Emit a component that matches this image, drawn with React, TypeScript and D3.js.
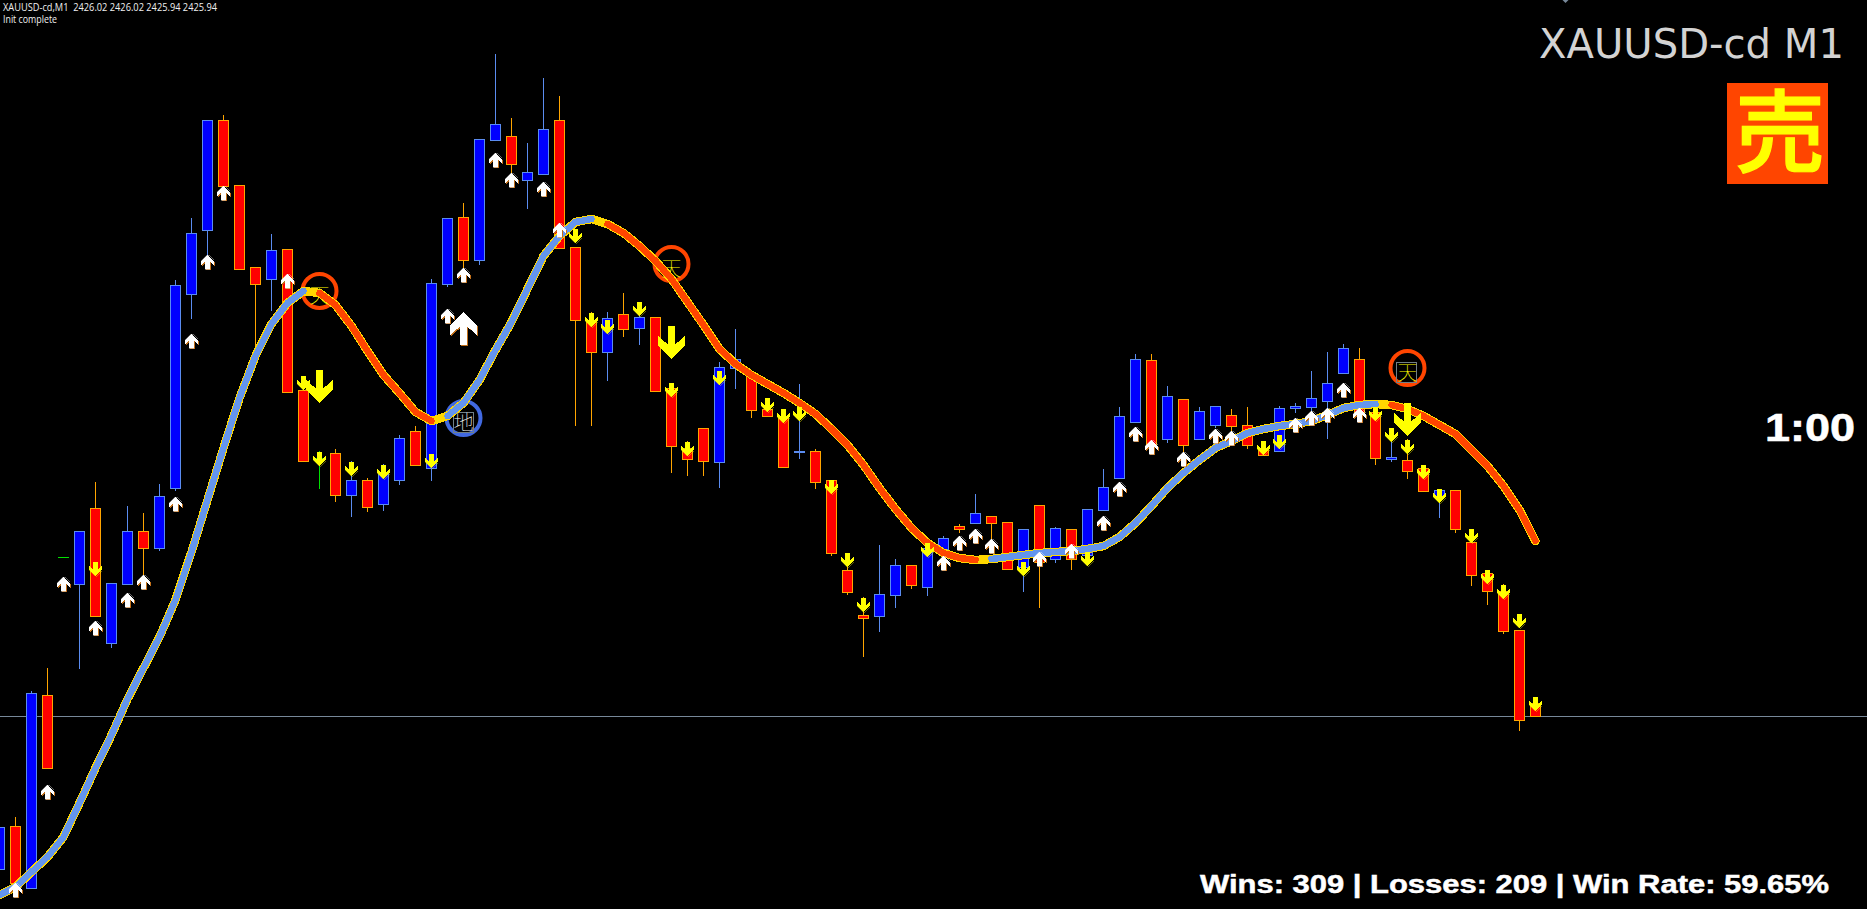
import React from "react";
import * as d3 from "d3";

const highs = [2424.83,2424.94,2426.20,2426.43,2427.53,2427.79,2428.29,2427.27,2428.05,2427.98,2428.27,2430.31,2430.93,2431.90,2431.96,2431.25,2430.43,2430.77,2430.61,2429.20,2428.60,2428.62,2428.50,2428.33,2428.47,2428.76,2428.85,2430.32,2430.92,2431.08,2431.71,2432.57,2431.93,2431.68,2432.33,2432.15,2430.63,2429.99,2429.99,2430.18,2430.08,2429.93,2429.27,2428.70,2428.82,2429.49,2429.82,2429.37,2429.12,2429.02,2429.27,2428.62,2428.30,2427.57,2427.14,2427.66,2427.52,2427.46,2427.73,2427.75,2427.87,2428.17,2427.94,2427.88,2427.81,2428.05,2427.84,2427.81,2428.01,2428.42,2429.04,2429.57,2429.57,2429.25,2429.11,2429.04,2429.04,2429.02,2429.04,2428.60,2429.05,2429.08,2429.40,2429.59,2429.67,2429.63,2428.98,2428.73,2428.72,2428.42,2428.20,2428.20,2427.68,2427.37,2427.27,2426.80,2426.07];
const lows = [2424.41,2424.27,2424.22,2425.42,2427.53,2426.42,2426.94,2426.63,2427.26,2427.35,2427.60,2428.20,2429.92,2430.55,2431.24,2430.41,2429.60,2430.00,2429.18,2428.49,2428.22,2428.09,2427.94,2427.99,2428.00,2428.26,2428.45,2428.30,2430.24,2430.42,2430.46,2431.70,2431.37,2431.02,2431.36,2430.62,2428.85,2428.85,2429.30,2429.74,2429.66,2429.19,2428.38,2428.35,2428.35,2428.23,2429.22,2428.93,2428.94,2428.43,2428.52,2428.22,2427.55,2427.16,2426.54,2426.79,2427.03,2427.22,2427.15,2427.61,2427.78,2427.87,2427.67,2427.41,2427.19,2427.03,2427.48,2427.41,2427.55,2428.00,2428.32,2428.88,2428.65,2428.68,2428.58,2428.71,2428.83,2428.78,2428.62,2428.55,2428.59,2428.98,2428.97,2428.72,2429.37,2428.97,2428.46,2428.49,2428.32,2428.19,2427.93,2427.78,2427.25,2427.06,2426.77,2425.80,2425.94];
const opens = [2424.41,2424.84,2424.22,2426.15,2427.53,2427.26,2428.02,2426.67,2427.26,2427.79,2427.62,2428.22,2430.16,2430.80,2431.90,2431.25,2430.43,2430.31,2430.61,2429.20,2428.52,2428.57,2428.15,2428.30,2428.06,2428.30,2428.79,2428.42,2430.26,2430.93,2430.50,2431.70,2431.74,2431.30,2431.36,2431.90,2430.63,2429.88,2429.58,2429.96,2429.82,2429.93,2429.22,2428.62,2428.82,2428.48,2429.42,2429.37,2429.01,2428.92,2428.58,2428.59,2428.30,2427.40,2426.95,2426.94,2427.15,2427.45,2427.23,2427.61,2427.84,2427.87,2427.94,2427.88,2427.43,2428.05,2427.51,2427.81,2427.55,2428.00,2428.32,2428.88,2429.50,2428.71,2429.11,2428.71,2428.85,2428.95,2428.85,2428.60,2428.59,2429.02,2429.03,2429.09,2429.37,2429.51,2428.98,2428.51,2428.50,2428.42,2428.13,2428.20,2427.68,2427.37,2427.19,2426.80,2426.07];
const closes = [2424.83,2424.27,2426.17,2425.42,2427.53,2427.79,2426.94,2427.27,2427.79,2427.62,2428.14,2430.25,2430.77,2431.90,2431.24,2430.41,2430.26,2430.60,2429.18,2428.49,2428.52,2428.15,2428.30,2428.03,2428.37,2428.72,2428.45,2430.27,2430.92,2430.50,2431.71,2431.86,2431.46,2431.38,2431.81,2430.62,2429.90,2429.58,2429.92,2429.81,2429.93,2429.19,2428.64,2428.51,2428.49,2429.43,2429.51,2429.00,2428.94,2428.43,2428.59,2428.28,2427.57,2427.18,2426.92,2427.16,2427.45,2427.25,2427.62,2427.72,2427.81,2427.97,2427.87,2427.41,2427.81,2427.48,2427.82,2427.51,2428.01,2428.23,2428.94,2429.51,2428.65,2429.14,2428.65,2428.99,2429.04,2428.84,2428.65,2428.55,2429.02,2429.04,2429.12,2429.27,2429.62,2428.97,2428.52,2428.53,2428.39,2428.19,2428.20,2427.81,2427.35,2427.19,2426.79,2425.90,2425.94];

const maValues = [2424.15,2424.23,2424.38,2424.53,2424.73,2425.07,2425.42,2425.75,2426.11,2426.42,2426.73,2427.10,2427.58,2428.10,2428.62,2429.12,2429.54,2429.86,2430.07,2430.19,2430.17,2430.05,2429.84,2429.59,2429.35,2429.17,2428.98,2428.89,2428.94,2429.07,2429.30,2429.60,2429.88,2430.21,2430.54,2430.74,2430.88,2430.91,2430.86,2430.77,2430.64,2430.49,2430.31,2430.08,2429.85,2429.61,2429.46,2429.35,2429.26,2429.17,2429.07,2428.96,2428.81,2428.65,2428.45,2428.22,2428.01,2427.82,2427.67,2427.57,2427.52,2427.50,2427.51,2427.53,2427.55,2427.57,2427.58,2427.59,2427.61,2427.64,2427.73,2427.87,2428.04,2428.22,2428.37,2428.50,2428.62,2428.69,2428.77,2428.81,2428.84,2428.86,2428.89,2428.95,2429.02,2429.05,2429.06,2429.05,2429.01,2428.94,2428.85,2428.76,2428.60,2428.44,2428.24,2428.00,2427.69];
// bar indexes where the trend line changes colour (blue up, gold turn, orange down)
const maBlueRuns = [[0, 19], [28, 37], [62, 86]];
const maOrangeRuns = [[20, 27], [38, 61], [87, 96]];

const buyBars = [1,3,4,6,8,9,11,12,13,14,18,28,29,31,32,34,35,59,60,61,62,65,67,69,70,71,72,74,76,77,81,82,83,84,85];
const buyTips = [2424.27,2425.25,2427.33,2426.89,2427.17,2427.35,2428.13,2429.76,2430.55,2431.24,2430.36,2430.01,2430.42,2431.57,2431.37,2431.28,2430.87,2427.54,2427.74,2427.81,2427.71,2427.58,2427.66,2427.94,2428.28,2428.83,2428.70,2428.58,2428.81,2428.79,2428.92,2428.99,2429.02,2429.27,2429.02];
const sellBars = [6,19,20,22,24,27,36,37,38,40,42,43,45,48,49,50,52,53,54,58,64,68,79,80,86,87,88,89,90,92,93,94,95,96];
const sellTips = [2427.34,2429.20,2428.44,2428.34,2428.31,2428.42,2430.67,2429.83,2429.76,2429.94,2429.13,2428.54,2429.25,2428.98,2428.87,2428.89,2428.16,2427.43,2426.98,2427.53,2427.34,2427.44,2428.55,2428.61,2428.89,2428.68,2428.56,2428.31,2428.07,2427.67,2427.26,2427.11,2426.82,2425.99];
const bigBuyBars = [29];
const bigBuyTips = [2429.98];
const bigSellBars = [20, 42, 88];
const bigSellTips = [2429.07, 2429.51, 2428.74];

const markBars = [20, 42, 88, 29];
const markPrices = [2430.19, 2430.46, 2429.42, 2428.92];
const markLabels = ["天", "天", "天", "地"];
const markBoxed = [false, false, true, true];

const lastPrice = 2425.94;
const headerText = "XAUUSD-cd,M1  2426.02 2426.02 2425.94 2425.94";
const statusText = "Init complete";
const titleText = "XAUUSD-cd M1";
const signalText = "売";
const timerText = "1:00";
const statsText = "Wins: 309 | Losses: 209 | Win Rate: 59.65%";

const W = 1867;
const H = 909;
const x = d3.scaleLinear().domain([0, 96]).range([-0.5, 1535.5]);
const y = d3.scaleLinear().domain([2424.01, 2433.1]).range([909, 0]);
const py = (v: number) => Math.round(y(v)) + 0.5;

const BLUE = "#0000ff";
const BLUE_EDGE = "#5b8cf0";
const RED = "#ff0000";
const RED_EDGE = "#ffa500";
const GREEN = "#00e000";
const MA_BLUE = "#6495ed";
const MA_ORANGE = "#ff4500";
const MA_GOLD = "#ffd700";

const maLine = d3
  .line<number>()
  .x((i) => x(i))
  .y((i) => y(maValues[i]))
  .curve(d3.curveLinear);

// Arrow outline with its tip at (0,0), pointing down; w = full width, h = full height
function arrowPath(w: number, h: number, shaft: number, dir: 1 | -1) {
  const s = shaft / 2;
  const hw = w / 2;
  const pts: [number, number][] = [
    [-s, -h],
    [-s, -0.44 * h],
    [-hw, -0.71 * h],
    [-hw, -0.41 * h],
    [0, 0],
    [hw, -0.41 * h],
    [hw, -0.71 * h],
    [s, -0.44 * h],
    [s, -h],
  ];
  return d3.line()(pts.map(([a, b]) => [a, b * dir] as [number, number])) + "Z";
}

const smallDown = arrowPath(12.5, 14, 4.2, 1);
const smallUp = arrowPath(12.5, 14, 4.2, -1);
const bigDown = arrowPath(27, 33, 7.6, 1);
const bigUp = arrowPath(27, 33, 7.6, -1);

export default function App() {
  const bars = d3.range(opens.length);
  return (
    <svg
      width={W}
      height={H}
      viewBox={`0 0 ${W} ${H}`}
      style={{ position: "fixed", left: 0, top: 0, background: "#000", display: "block" }}
    >
      <rect width={W} height={H} fill="#000" />
      <line x1={0} x2={W} y1={py(lastPrice)} y2={py(lastPrice)} stroke="#778899" strokeWidth={1} shapeRendering="crispEdges" />
      <path d="M1562.5 0 L1568.5 0 L1565.5 3 Z" fill="#778899" />

      <g shapeRendering="crispEdges">
        {bars.map((i) => {
          const up = closes[i] > opens[i];
          const doji = closes[i] === opens[i];
          const edge = doji ? GREEN : up ? BLUE_EDGE : RED_EDGE;
          const fill = up ? BLUE : RED;
          const cx = x(i);
          const top = py(Math.max(opens[i], closes[i]));
          const bot = py(Math.min(opens[i], closes[i]));
          return (
            <g key={i}>
              <line x1={cx} x2={cx} y1={py(highs[i])} y2={py(lows[i])} stroke={edge} strokeWidth={1} />
              {doji ? (
                <line x1={cx - 5.5} x2={cx + 5.5} y1={top} y2={top} stroke={edge} />
              ) : (
                <rect x={cx - 5} y={top} width={10} height={Math.max(bot - top, 1)} fill={fill} stroke={edge} strokeWidth={1} />
              )}
            </g>
          );
        })}
      </g>

      {markBars.map((b, k) => {
        const cx = x(b);
        const cy = y(markPrices[k]);
        const colour = markLabels[k] === "地" ? "#4169e1" : MA_ORANGE;
        const glyph = markLabels[k] === "地" ? "#ffffff" : "#ffff00";
        return (
          <g key={k}>
            <circle cx={cx} cy={cy} r={17} fill="none" stroke={colour} strokeWidth={4} />
            {markBoxed[k] && (
              <rect x={Math.round(cx) - 10.5} y={Math.round(cy) - 5.5} width={20} height={20} fill="none" stroke="#708088" strokeWidth={1} shapeRendering="crispEdges" />
            )}
            <text
              x={cx}
              y={cy + 12}
              textAnchor="middle"
              fontSize={20}
              fontWeight={100}
              fontFamily="'Noto Sans CJK JP','Noto Sans CJK SC',sans-serif"
              fill={glyph}
            >
              {markLabels[k]}
            </text>
          </g>
        );
      })}

      <g fill="none" strokeLinejoin="round" shapeRendering="crispEdges">
        <path d={maLine(bars) ?? ""} stroke={MA_GOLD} strokeWidth={8.5} strokeLinecap="round" />
        {maBlueRuns.map(([a, b]) => (
          <path key={a} d={maLine(d3.range(a, b + 1)) ?? ""} stroke={MA_BLUE} strokeWidth={6.5} strokeLinecap="round" />
        ))}
        {maOrangeRuns.map(([a, b]) => (
          <path key={a} d={maLine(d3.range(a, b + 1)) ?? ""} stroke={MA_ORANGE} strokeWidth={6.5} strokeLinecap="round" />
        ))}
      </g>

      <g shapeRendering="crispEdges">
        {sellBars.map((b, k) => (
          <path key={b} transform={`translate(${x(b)},${y(sellTips[k])})`} d={smallDown} fill="#ffff00" stroke="#ffff00" strokeWidth={0.4} />
        ))}
        {buyBars.map((b, k) => (
          <g key={b} transform={`translate(${x(b)},${y(buyTips[k])})`}>
            <path transform="translate(1,1)" d={smallUp} fill="#c2701a" />
            <path d={smallUp} fill="#ffffff" stroke="#ffffff" strokeWidth={0.4} />
          </g>
        ))}
        {bigSellBars.map((b, k) => (
          <path key={b} transform={`translate(${x(b)},${y(bigSellTips[k])})`} d={bigDown} fill="#ffff00" />
        ))}
        {bigBuyBars.map((b, k) => (
          <g key={b} transform={`translate(${x(b)},${y(bigBuyTips[k])})`}>
            <path transform="translate(1,1)" d={bigUp} fill="#c2701a" />
            <path d={bigUp} fill="#ffffff" />
          </g>
        ))}
      </g>

      <text x={3} y={11} fontFamily="'Open Sans',Tahoma,sans-serif" fontSize={10} fill="#f0f0f0" textLength={214} lengthAdjust="spacingAndGlyphs" style={{ whiteSpace: "pre" }}>
        {headerText}
      </text>
      <text x={3} y={23} fontFamily="'Open Sans',Tahoma,sans-serif" fontSize={10.5} fill="#f0f0f0" textLength={54} lengthAdjust="spacingAndGlyphs">
        {statusText}
      </text>

      <text x={1539} y={58} fontFamily="'DejaVu Sans',Verdana,sans-serif" fontSize={40} fill="#d3d3d3" textLength={305} lengthAdjust="spacingAndGlyphs">
        {titleText}
      </text>

      <rect x={1727} y={83} width={101} height={101} fill="#ff4500" />
      <text x={1780} y={165} textAnchor="middle" fontFamily="'Noto Sans CJK JP',sans-serif" fontSize={90} fontWeight={500} fill="#ffff00" stroke="#ffff00" strokeWidth={1.2}>
        {signalText}
      </text>

      <text x={1765} y={441} fontFamily="'Liberation Sans',Arial,sans-serif" fontWeight={700} fontSize={39} fill="#ffffff" stroke="#ffffff" strokeWidth={0.6} textLength={90} lengthAdjust="spacingAndGlyphs">
        {timerText}
      </text>
      <text x={1200} y={893} fontFamily="'Liberation Sans',Arial,sans-serif" fontWeight={700} fontSize={26.5} fill="#ffffff" stroke="#ffffff" strokeWidth={0.5} textLength={629} lengthAdjust="spacingAndGlyphs">
        {statsText}
      </text>
    </svg>
  );
}
